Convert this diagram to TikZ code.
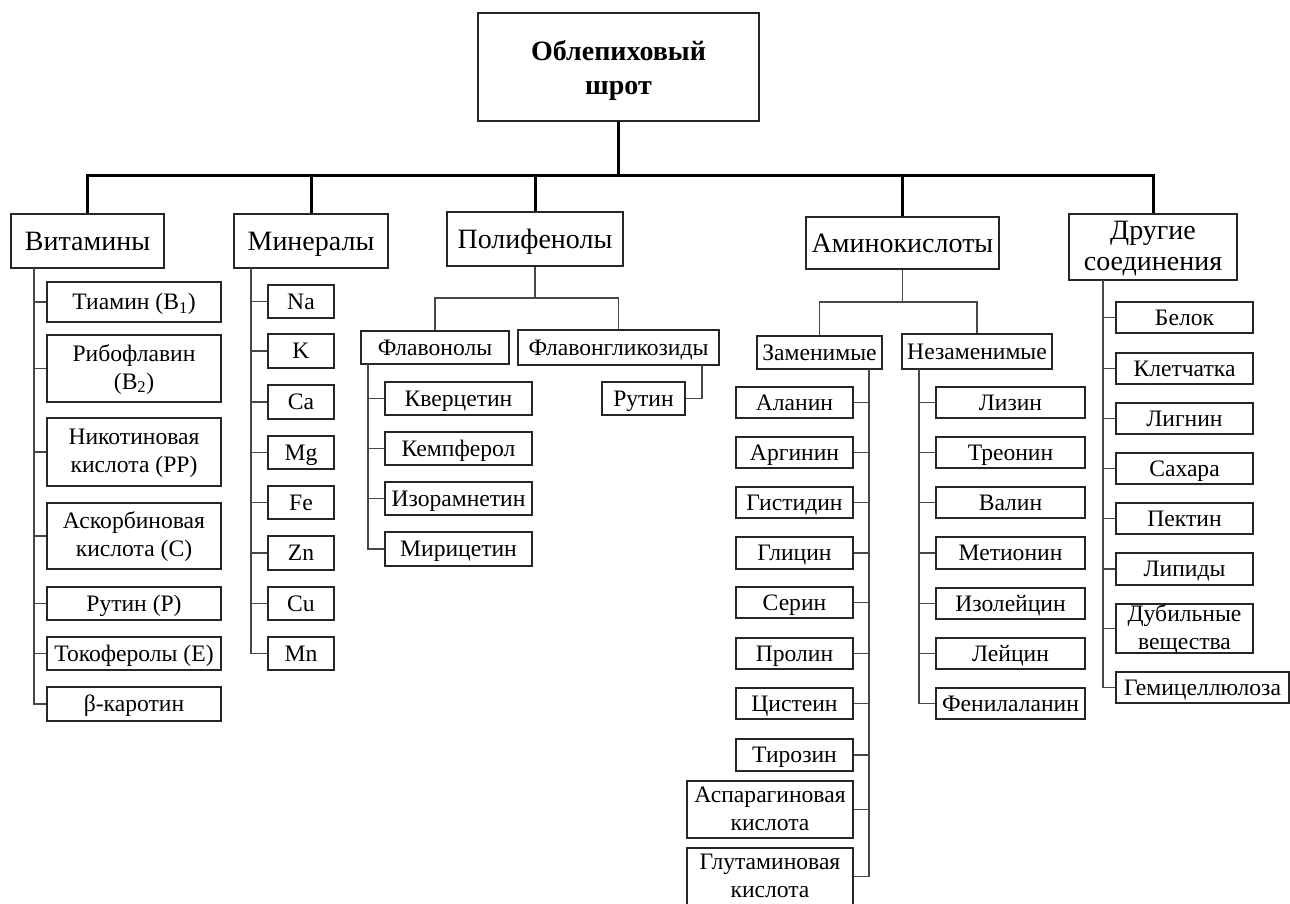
\documentclass[tikz,border=0pt]{standalone}
\usepackage{fontspec}
\setmainfont{Liberation Serif}
\begin{document}
\begin{tikzpicture}[x=1pt,y=-1pt,
  boxbase/.style={draw=black!85,line width=1.1pt,inner sep=0pt,align=center,fill=white},
  rootbox/.style={boxbase,line width=1.4pt,font=\fontsize{28}{34}\selectfont\bfseries,text height=54pt,text depth=0pt},
  catbox/.style={boxbase,font=\fontsize{28}{31}\selectfont,text height=22pt,text depth=4pt},
  cattwo/.style={boxbase,font=\fontsize{28}{31}\selectfont,text height=46pt,text depth=0pt},
  leafbox/.style={boxbase,font=\fontsize{23.6}{28}\selectfont,text height=18.5pt,text depth=3.5pt},
  leaftwo/.style={boxbase,font=\fontsize{23.6}{28}\selectfont,text height=41pt,text depth=0pt},
  conn/.style={draw=black!72,line width=1.5pt},
  bus/.style={draw=black,line width=3pt}]
\useasboundingbox (0,0) rectangle (1290,903);
\newcommand\mybox[7]{%
  \pgfmathsetmacro\cx{(#3+#5)/2}\pgfmathsetmacro\cy{(#4+#6)/2}%
  \pgfmathsetmacro\ww{#5-#3}\pgfmathsetmacro\hh{#6-#4}%
  \node[#1,minimum width=\ww pt,minimum height=\hh pt] (#2) at (\cx,\cy) {#7};}
% root
\mybox{rootbox}{root}{478}{13}{759}{121}{Облепиховый\\шрот}
% categories
\mybox{catbox}{vit}{11}{214}{164}{268}{Витамины}
\mybox{catbox}{min}{234}{214}{388}{268}{Минералы}
\mybox{catbox}{pol}{447}{212}{623}{266}{Полифенолы}
\mybox{catbox}{ami}{806}{217}{999}{269}{Аминокислоты}
\mybox{cattwo}{drg}{1069}{214}{1237}{280}{Другие\\соединения}
% vitamins
\mybox{leafbox}{v1}{47}{282}{221}{322}{Тиамин (B\textsubscript{1})}
\mybox{leaftwo}{v2}{47}{335}{221}{402}{Рибофлавин\\(B\textsubscript{2})}
\mybox{leaftwo}{v3}{47}{418}{221}{486}{Никотиновая\\кислота (PP)}
\mybox{leaftwo}{v4}{47}{503}{221}{569}{Аскорбиновая\\кислота (C)}
\mybox{leafbox}{v5}{47}{587}{221}{620}{Рутин (P)}
\mybox{leafbox}{v6}{47}{637}{221}{670}{Токоферолы (E)}
\mybox{leafbox}{v7}{47}{687}{221}{721}{β-каротин}
% minerals
\mybox{leafbox}{m1}{268}{285}{334}{318}{Na}
\mybox{leafbox}{m2}{268}{334}{334}{368}{K}
\mybox{leafbox}{m3}{268}{385}{334}{419}{Ca}
\mybox{leafbox}{m4}{268}{436}{334}{469}{Mg}
\mybox{leafbox}{m5}{268}{486}{334}{519}{Fe}
\mybox{leafbox}{m6}{268}{536}{334}{570}{Zn}
\mybox{leafbox}{m7}{268}{587}{334}{620}{Cu}
\mybox{leafbox}{m8}{268}{637}{334}{670}{Mn}
% polyphenols
\mybox{leafbox}{flv}{361}{331}{509}{364}{Флавонолы}
\mybox{leafbox}{fgl}{518}{330}{719}{365}{Флавонгликозиды}
\mybox{leafbox}{p1}{385}{382}{532}{415}{Кверцетин}
\mybox{leafbox}{p2}{385}{432}{532}{465}{Кемпферол}
\mybox{leafbox}{p3}{385}{482}{532}{515}{Изорамнетин}
\mybox{leafbox}{p4}{385}{532}{532}{566}{Мирицетин}
\mybox{leafbox}{rut}{602}{382}{685}{415}{Рутин}
% amino acids
\mybox{leafbox}{zam}{757}{336}{882}{369}{Заменимые}
\mybox{leafbox}{nez}{902}{334}{1052}{369}{Незаменимые}
\mybox{leafbox}{a1}{736}{387}{853}{418}{Аланин}
\mybox{leafbox}{a2}{736}{437}{853}{468}{Аргинин}
\mybox{leafbox}{a3}{736}{487}{853}{518}{Гистидин}
\mybox{leafbox}{a4}{736}{537}{853}{569}{Глицин}
\mybox{leafbox}{a5}{736}{587}{853}{618}{Серин}
\mybox{leafbox}{a6}{736}{638}{853}{669}{Пролин}
\mybox{leafbox}{a7}{736}{688}{853}{719}{Цистеин}
\mybox{leafbox}{a8}{736}{739}{853}{771}{Тирозин}
\mybox{leaftwo}{a9}{687}{781}{853}{838}{Аспарагиновая\\кислота}
\mybox{leaftwo}{a10}{687}{848}{853}{905}{Глутаминовая\\кислота}
\mybox{leafbox}{n1}{936}{387}{1085}{418}{Лизин}
\mybox{leafbox}{n2}{936}{437}{1085}{468}{Треонин}
\mybox{leafbox}{n3}{936}{487}{1085}{518}{Валин}
\mybox{leafbox}{n4}{936}{537}{1085}{569}{Метионин}
\mybox{leafbox}{n5}{936}{588}{1085}{619}{Изолейцин}
\mybox{leafbox}{n6}{936}{638}{1085}{669}{Лейцин}
\mybox{leafbox}{n7}{936}{688}{1085}{719}{Фенилаланин}
% other compounds
\mybox{leafbox}{d1}{1116}{302}{1253}{333}{Белок}
\mybox{leafbox}{d2}{1116}{353}{1253}{384}{Клетчатка}
\mybox{leafbox}{d3}{1116}{403}{1253}{434}{Лигнин}
\mybox{leafbox}{d4}{1116}{453}{1253}{484}{Сахара}
\mybox{leafbox}{d5}{1116}{503}{1253}{534}{Пектин}
\mybox{leafbox}{d6}{1116}{553}{1253}{585}{Липиды}
\mybox{leaftwo}{d7}{1116}{604}{1253}{653}{Дубильные\\вещества}
\mybox{leafbox}{d8}{1116}{672}{1289}{703}{Гемицеллюлоза}
% coordinates for connector trunks
\coordinate (busY) at (0,175);
\coordinate (polY) at (0,298);
\coordinate (amiY) at (0,302);
\coordinate (vitL) at (34,268);
\coordinate (minL) at (251,268);
\coordinate (flvL) at (368,364);
\coordinate (fglR) at (702,365);
\coordinate (zamR) at (869,369);
\coordinate (nezL) at (919,369);
\coordinate (drgL) at (1103,280);
% top bus
\draw[bus] (root.south) -- (root.south |- busY);
\draw[bus] (vit.north) -- (vit.north |- busY) -- (drg.north |- busY) -- (drg.north);
\draw[bus] (min.north) -- (min.north |- busY);
\draw[bus] (pol.north) -- (pol.north |- busY);
\draw[bus] (ami.north) -- (ami.north |- busY);
% polyphenols
\draw[conn] (pol.south) -- (pol.south |- polY);
\draw[conn] (flv.north) -- (flv.north |- polY) -- (fgl.north |- polY) -- (fgl.north);
\draw[conn] (flvL) |- (p4.west);
\foreach \n in {p1,p2,p3} \draw[conn] (flvL |- \n.west) -- (\n.west);
\draw[conn] (fglR) |- (rut.east);
% amino
\draw[conn] (ami.south) -- (ami.south |- amiY);
\draw[conn] (zam.north) -- (zam.north |- amiY) -- (nez.north |- amiY) -- (nez.north);
\draw[conn] (zamR) |- (a10.east);
\foreach \n in {a1,a2,a3,a4,a5,a6,a7,a8,a9} \draw[conn] (zamR |- \n.east) -- (\n.east);
\draw[conn] (nezL) |- (n7.west);
\foreach \n in {n1,n2,n3,n4,n5,n6} \draw[conn] (nezL |- \n.west) -- (\n.west);
% vitamins
\draw[conn] (vitL) |- (v7.west);
\foreach \n in {v1,v2,v3,v4,v5,v6} \draw[conn] (vitL |- \n.west) -- (\n.west);
% minerals
\draw[conn] (minL) |- (m8.west);
\foreach \n in {m1,m2,m3,m4,m5,m6,m7} \draw[conn] (minL |- \n.west) -- (\n.west);
% other
\draw[conn] (drgL) |- (d8.west);
\foreach \n in {d1,d2,d3,d4,d5,d6,d7} \draw[conn] (drgL |- \n.west) -- (\n.west);
\end{tikzpicture}
\end{document}
